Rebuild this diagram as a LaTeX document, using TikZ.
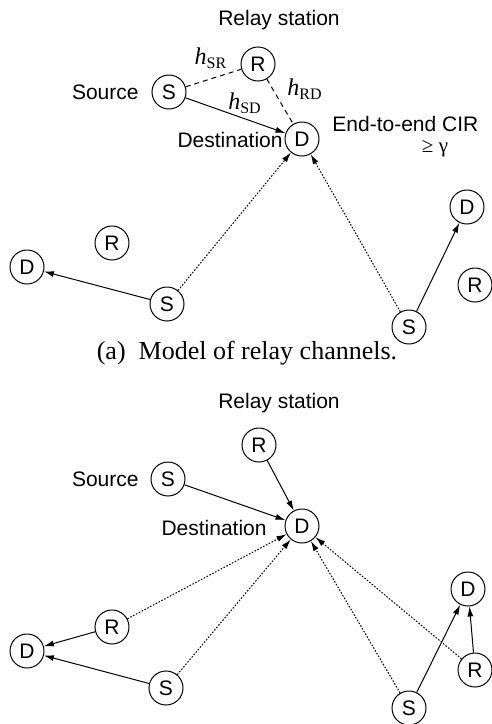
\documentclass[tikz,border=0pt]{standalone}
\usepackage{fontspec}
\setmainfont{Liberation Serif}
\setsansfont{Liberation Sans}
\usetikzlibrary{arrows.meta}

\begin{document}
\begin{tikzpicture}[x=0.5pt, y=-0.5pt,
    station/.style={draw, circle, line width=0.5pt, minimum size=17pt, inner sep=0pt, font=\sffamily\fontsize{10.5}{12}\selectfont},
    lbl/.style={font=\sffamily\fontsize{10.5}{12}\selectfont, inner sep=0pt},
    gain/.style={font=\fontsize{12}{14}\selectfont, inner sep=0pt},
    chan/.style={line width=0.5pt},
    link/.style={chan, -{Latex[length=5pt, width=3pt]}},
    probe/.style={link, dash pattern=on 0.8pt off 0.8pt},
    relay/.style={chan, dash pattern=on 2.5pt off 2pt}]
  \useasboundingbox (0,0) rectangle (492,724);

  % (a) model of relay channels
  \node[lbl] (rstatA) at (279,20) {Relay station};
  \node[station] (rA) at (258,64) {R};
  \node[station] (sA) at (169,92) {S};
  \node[station] (dA) at (302,139) {D};
  \node[lbl, anchor=east] (srcA) at (139,92) {Source};
  \node[lbl, anchor=east] (dstA) at (283,140) {Destination};
  \node[lbl, anchor=west] (cir) at (332,124) {End-to-end CIR};
  \node[gain, font=\fontsize{10.5}{12}\selectfont] (gam) at (435,149) {≥ γ};
  \node[gain] (hsr) at (211,58) {\textit{h}\textsubscript{SR}};
  \node[gain] (hrd) at (305,89) {\textit{h}\textsubscript{RD}};
  \node[gain] (hsd) at (245,103) {\textit{h}\textsubscript{SD}};

  \draw[relay] (sA) -- (rA);
  \draw[relay] (rA) -- (dA);
  \draw[link] (sA) -- (dA);

  \node[station] (rA1) at (112,243) {R};
  \node[station] (dA1) at (27,267) {D};
  \node[station] (sA1) at (167,304) {S};
  \node[station] (dA2) at (467,207) {D};
  \node[station] (rA2) at (475,285) {R};
  \node[station] (sA2) at (409,327) {S};

  \draw[link] (sA1) -- (dA1);
  \draw[link] (sA2) -- (dA2);
  \draw[probe] (sA1) -- (dA);
  \draw[probe] (sA2) -- (dA);

  \node[font=\fontsize{13}{15}\selectfont] (capA) at (247,353) {(a)\ \ Model of relay channels.};

  % second panel: relay stations forward to the destination
  \node[lbl] (rstatB) at (279,403) {Relay station};
  \node[station] (rB) at (259,445) {R};
  \node[station] (sB) at (168,479) {S};
  \node[station] (dB) at (302,526) {D};
  \node[lbl, anchor=east] (srcB) at (139,479) {Source};
  \node[lbl, anchor=east] (dstB) at (267,528) {Destination};

  \draw[link] (sB) -- (dB);
  \draw[link] (rB) -- (dB);

  \node[station] (rB1) at (112,627) {R};
  \node[station] (dB1) at (27,651) {D};
  \node[station] (sB1) at (166,688) {S};
  \node[station] (dB2) at (468,589) {D};
  \node[station] (rB2) at (475,670) {R};
  \node[station] (sB2) at (409,708) {S};

  \draw[link] (rB1) -- (dB1);
  \draw[link] (sB1) -- (dB1);
  \draw[link] (sB2) -- (dB2);
  \draw[link] (rB2) -- (dB2);
  \draw[probe] (rB1) -- (dB);
  \draw[probe] (sB1) -- (dB);
  \draw[probe] (sB2) -- (dB);
  \draw[probe] (rB2) -- (dB);
\end{tikzpicture}
\end{document}
